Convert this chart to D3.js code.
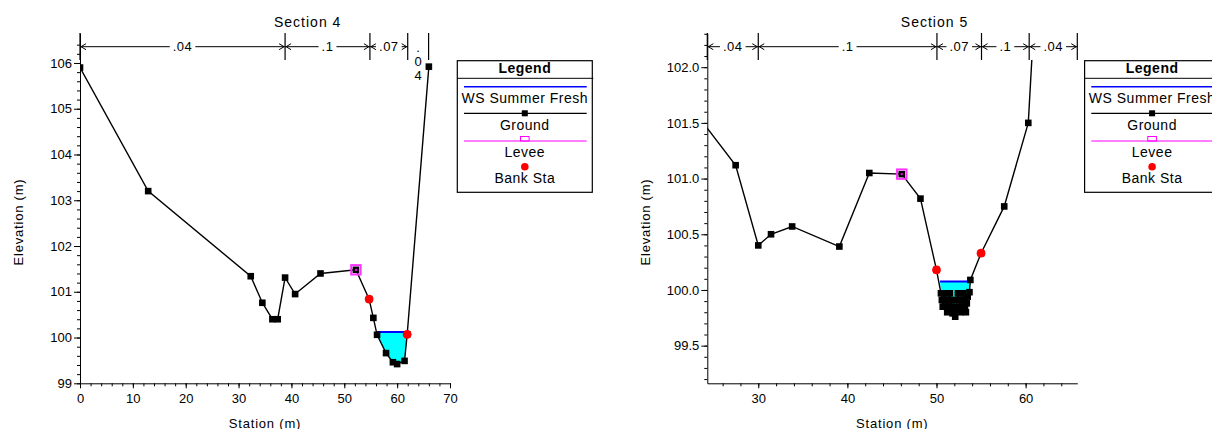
<!DOCTYPE html>
<html>
<head>
<meta charset="utf-8">
<script src="https://cdn.jsdelivr.net/npm/d3@7"></script>
<style>
body { margin: 0; background: #fff; }
svg { display: block; font-family: "Liberation Sans", Arial, sans-serif; }
</style>
</head>
<body>
<svg id="chart" width="1212" height="429"></svg>
<script>
// ---- Section 4 data ----
const s4Station = [0, 12.9, 32.3, 34.5, 36.4, 37.4, 38.8, 40.7, 45.5, 52.2, 54.7, 55.5, 56.2, 57.9, 59.2, 60.0, 61.4, 61.9, 66.0];
const s4Elev    = [105.9, 103.2, 101.34, 100.76, 100.4, 100.4, 101.31, 100.95, 101.4, 101.48, 100.84, 100.43, 100.06, 99.66, 99.46, 99.42, 99.49, 100.07, 105.92];
const s4LeveeSta = [52.2];
const s4LeveeElev = [101.48];
const s4BankSta = [54.7, 61.9];
const s4BankElev = [100.84, 100.07];
const s4Ws = 100.12;
const s4WsExtent = [56.1, 61.95];
const s4NBreaks = [0, 38.8, 54.85, 62.0, 65.95];
const s4NValues = [".04", ".1", ".07", ".04"];

// ---- Section 5 data ----
const s5Station = [22.0, 27.46, 30.0, 31.43, 33.8, 39.1, 42.46, 46.1, 48.2, 50.0,
    50.5, 50.6, 50.7, 50.8, 50.9, 51.0, 51.1, 51.2, 51.3, 51.4, 51.5, 51.6, 51.7, 51.8, 51.9, 52.0, 52.1, 52.2,
    52.3, 52.4, 52.5, 52.6, 52.7, 52.8, 52.9, 53.0, 53.1, 53.2, 53.3, 53.4, 53.5, 53.7, 53.8,
    55.0, 57.6, 60.3, 61.0];
const s5Elev    = [101.69, 101.12, 100.40, 100.50, 100.57, 100.39, 101.05, 101.04, 100.82, 100.18,
    99.97, 99.91, 99.85, 99.91, 99.97, 99.91, 99.85, 99.80, 99.85, 99.91, 99.97, 99.91, 99.85, 99.79, 99.85, 99.80, 99.76, 99.82,
    99.91, 99.97, 99.91, 99.85, 99.80, 99.85, 99.91, 99.97, 99.91, 99.85, 99.80, 99.88, 99.94, 99.98, 100.09,
    100.33, 100.75, 101.50, 102.5];
const s5LeveeSta = [46.1];
const s5LeveeElev = [101.04];
const s5BankSta = [50.0, 55.0];
const s5BankElev = [100.18, 100.33];
const s5Ws = 100.075;
const s5WsExtent = [50.4, 53.8];
const s5NBreaks = [22.0, 30.0, 50.05, 55.05, 60.4, 65.8];
const s5NValues = [".04", ".1", ".07", ".1", ".04"];

const legendItems = ["WS Summer Fresh", "Ground", "Levee", "Bank Sta"];

const svg = d3.select("#chart");

function drawPanel(p) {
    const g = svg.append("g");
    const x = d3.scaleLinear().domain(p.xDomain).range([p.left, p.right]);
    const y = d3.scaleLinear().domain(p.yDomain).range([p.bottom, p.top]);

    const clipId = "clip-" + p.id;
    svg.append("clipPath").attr("id", clipId)
        .append("rect")
        .attr("x", p.left).attr("y", p.clipTop)
        .attr("width", p.right - p.left).attr("height", p.bottom - p.clipTop);

    // axes
    g.append("g").attr("transform", `translate(0,${p.bottom})`)
        .call(d3.axisBottom(x).tickValues(p.xTicks).tickSize(5).tickPadding(5).tickSizeOuter(0));
    g.append("g").attr("transform", `translate(0,${p.bottom})`)
        .call(d3.axisBottom(x).tickValues(p.xMinor).tickSize(3).tickFormat("").tickSizeOuter(0))
        .select(".domain").remove();
    g.append("g").attr("transform", `translate(${p.left},0)`)
        .call(d3.axisLeft(y).tickValues(p.yTicks).tickSize(6).tickPadding(2).tickSizeOuter(0).tickFormat(d3.format(p.yFormat)));
    g.append("g").attr("transform", `translate(${p.left},0)`)
        .call(d3.axisLeft(y).tickValues(p.yMinor).tickSize(3).tickFormat("").tickSizeOuter(0))
        .select(".domain").remove();
    g.selectAll(".tick text").attr("font-size", 13).attr("font-family", "Liberation Sans, Arial, sans-serif").attr("fill", "#000");
    g.selectAll(".domain, .tick line").attr("stroke", "#000");

    // axis labels
    g.append("text").attr("x", (p.left + p.right) / 2).attr("y", 427.5)
        .attr("text-anchor", "middle").attr("font-size", 13).attr("letter-spacing", 0.8)
        .text("Station (m)");
    g.append("text").attr("transform", `translate(${p.yLabelX},222) rotate(-90)`)
        .attr("text-anchor", "middle").attr("font-size", 13).attr("letter-spacing", 0.8)
        .text("Elevation (m)");
    g.append("text").attr("x", p.titleX).attr("y", 27)
        .attr("text-anchor", "middle").attr("font-size", 14).attr("letter-spacing", 1)
        .text(p.title);

    // plot content
    const plot = g.append("g").attr("clip-path", `url(#${clipId})`);
    const ground = p.station.map((s, i) => [s, p.elev[i]]);

    const water = [[p.wsExtent[0], p.ws]]
        .concat(ground.filter(d => d[0] > p.wsExtent[0] && d[0] < p.wsExtent[1]))
        .concat([[p.wsExtent[1], p.ws]]);
    plot.append("path")
        .attr("d", d3.line().x(d => x(d[0])).y(d => y(d[1]))(water) + "Z")
        .attr("fill", "#00ffff").attr("stroke", "none");
    plot.append("line")
        .attr("x1", x(p.wsExtent[0])).attr("x2", x(p.wsExtent[1]))
        .attr("y1", y(p.ws)).attr("y2", y(p.ws))
        .attr("stroke", "#0000ff").attr("stroke-width", 2);

    plot.append("path")
        .attr("d", d3.line().x(d => x(d[0])).y(d => y(d[1]))(ground))
        .attr("fill", "none").attr("stroke", "#000").attr("stroke-width", 1.4);
    plot.selectAll(".gpt").data(ground).enter().append("rect")
        .attr("x", d => x(d[0]) - 3.3).attr("y", d => y(d[1]) - 3.3)
        .attr("width", 6.6).attr("height", 6.6).attr("fill", "#000");

    p.leveeSta.forEach((s, i) => {
        const cx = x(s), cy = y(p.leveeElev[i]);
        plot.append("rect").attr("x", cx - 4.7).attr("y", cy - 4.7).attr("width", 9.4).attr("height", 9.4)
            .attr("fill", "none").attr("stroke", "#ff33ff").attr("stroke-width", 2);
        plot.append("rect").attr("x", cx - 1).attr("y", cy - 1).attr("width", 2).attr("height", 2)
            .attr("fill", "#ff00ff");
    });
    plot.selectAll(".bank").data(p.bankSta).enter().append("circle")
        .attr("cx", d => x(d)).attr("cy", (d, i) => y(p.bankElev[i]))
        .attr("r", 4.4).attr("fill", "#ff0000");

    // Manning's n band
    const nY = 46.7;
    const ann = g.append("g");
    p.nBreaks.forEach(b => {
        const bx = x(Math.max(b, p.xDomain[0]));
        ann.append("line").attr("x1", bx).attr("x2", bx).attr("y1", 33).attr("y2", 60)
            .attr("stroke", "#000").attr("stroke-width", 1.2);
    });
    p.nValues.forEach((v, i) => {
        const x0 = x(Math.max(p.nBreaks[i], p.xDomain[0]));
        const x1 = x(p.nBreaks[i + 1]);
        const mid = (x0 + x1) / 2;
        const t = ann.append("text").attr("x", mid).attr("y", nY + 4.5)
            .attr("text-anchor", "middle").attr("font-size", 13).attr("letter-spacing", 0.5).text(v);
        const w = t.node().getComputedTextLength();
        if (x1 - x0 < w + 8) {
            t.remove();
            v.split("").forEach((c, k) => {
                ann.append("text").attr("x", mid).attr("y", 51.5 + k * 14.2)
                    .attr("text-anchor", "middle").attr("font-size", 13).text(c);
            });
            return;
        }
        const segs = [[x0, mid - w / 2 - 3], [mid + w / 2 + 3, x1]];
        segs.forEach(s => {
            if (s[1] > s[0]) ann.append("line").attr("x1", s[0]).attr("x2", s[1]).attr("y1", nY).attr("y2", nY)
                .attr("stroke", "#000").attr("stroke-width", 1);
        });
        ann.append("path").attr("d", `M${x0 + 6},${nY - 3}L${x0 + 1},${nY}L${x0 + 6},${nY + 3}`)
            .attr("fill", "none").attr("stroke", "#000").attr("stroke-width", 1);
        ann.append("path").attr("d", `M${x1 - 6},${nY - 3}L${x1 - 1},${nY}L${x1 - 6},${nY + 3}`)
            .attr("fill", "none").attr("stroke", "#000").attr("stroke-width", 1);
    });

    // legend
    const lg = g.append("g").attr("transform", `translate(${p.right + 7.3},60.7)`);
    const lw = 135, cx = lw / 2;
    lg.append("rect").attr("x", 0).attr("y", 0).attr("width", lw).attr("height", 131.6)
        .attr("fill", "#fff").attr("stroke", "#000").attr("stroke-width", 1.2);
    lg.append("text").attr("x", cx).attr("y", 12).attr("text-anchor", "middle")
        .attr("font-size", 14).attr("font-weight", "bold").attr("letter-spacing", 0.5).text("Legend");
    lg.append("line").attr("x1", 0).attr("x2", lw + 1).attr("y1", 17.6).attr("y2", 17.6).attr("stroke", "#000");
    const symY = [26, 52.6, 80.3, 106];
    const txtY = [42.6, 69.3, 96, 122.6];
    lg.append("line").attr("x1", 6.7).attr("x2", 129.4).attr("y1", symY[0]).attr("y2", symY[0])
        .attr("stroke", "#0000ff").attr("stroke-width", 1.5);
    lg.append("line").attr("x1", 6.7).attr("x2", 129.4).attr("y1", symY[1]).attr("y2", symY[1])
        .attr("stroke", "#000").attr("stroke-width", 1.2);
    lg.append("rect").attr("x", cx - 3).attr("y", symY[1] - 3).attr("width", 6).attr("height", 6).attr("fill", "#000");
    lg.append("line").attr("x1", 6.7).attr("x2", 129.4).attr("y1", symY[2]).attr("y2", symY[2])
        .attr("stroke", "#ff00ff").attr("stroke-width", 1.2);
    lg.append("rect").attr("x", cx - 4.3).attr("y", symY[2] - 4.5).attr("width", 8.6).attr("height", 4.5)
        .attr("fill", "none").attr("stroke", "#ff00ff").attr("stroke-width", 1);
    lg.append("circle").attr("cx", cx).attr("cy", symY[3]).attr("r", 3.8).attr("fill", "#ff0000");
    legendItems.forEach((t, i) => {
        lg.append("text").attr("x", cx).attr("y", txtY[i]).attr("text-anchor", "middle")
            .attr("font-size", 14).attr("letter-spacing", 0.5).text(t);
    });
}

drawPanel({
    id: "s4", title: "Section 4", titleX: 307.7, yLabelX: 23,
    left: 80, right: 450, top: 33, bottom: 383.3, clipTop: 60,
    xDomain: [0, 70], yDomain: [99, 106.655],
    xTicks: d3.range(0, 71, 10), xMinor: d3.range(0, 71, 2),
    yTicks: d3.range(99, 106.5, 1), yMinor: d3.range(99, 106.6, 0.2), yFormat: "d",
    station: s4Station, elev: s4Elev, leveeSta: s4LeveeSta, leveeElev: s4LeveeElev,
    bankSta: s4BankSta, bankElev: s4BankElev, ws: s4Ws, wsExtent: s4WsExtent,
    nBreaks: s4NBreaks, nValues: s4NValues
});

drawPanel({
    id: "s5", title: "Section 5", titleX: 934.5, yLabelX: 650,
    left: 707.3, right: 1077.3, top: 33, bottom: 383.3, clipTop: 60,
    xDomain: [24.28, 65.8], yDomain: [99.162, 102.307],
    xTicks: [30, 40, 50, 60], xMinor: d3.range(26, 65, 2),
    yTicks: [99.5, 100.0, 100.5, 101.0, 101.5, 102.0], yMinor: d3.range(99.2, 102.31, 0.1), yFormat: ".1f",
    station: s5Station, elev: s5Elev, leveeSta: s5LeveeSta, leveeElev: s5LeveeElev,
    bankSta: s5BankSta, bankElev: s5BankElev, ws: s5Ws, wsExtent: s5WsExtent,
    nBreaks: s5NBreaks, nValues: s5NValues
});
</script>
</body>
</html>
